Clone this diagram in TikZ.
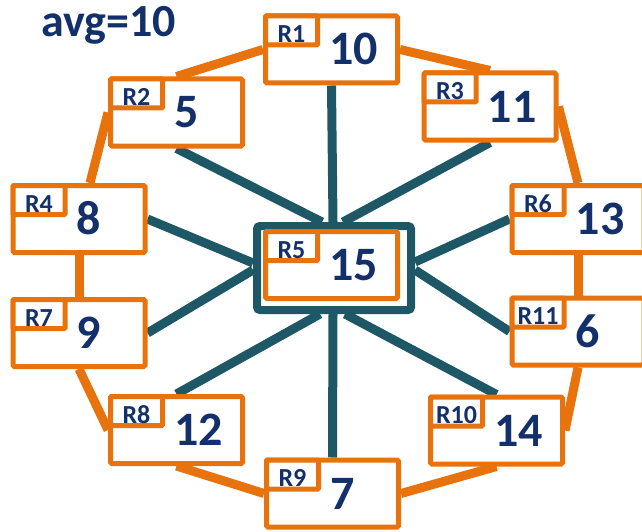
\documentclass[tikz,border=0pt]{standalone}
\usepackage{fontspec}
\setmainfont{Carlito}
\usetikzlibrary{calc}
\definecolor{navy}{RGB}{19,48,107}
\definecolor{orng}{RGB}{232,114,12}
\definecolor{tealc}{RGB}{30,88,102}
\pgfdeclarelayer{bg}
\pgfsetlayers{bg,main}
\begin{document}
\begin{tikzpicture}[x=1pt,y=-1pt,
 rbox/.style={draw=orng, line width=5pt, fill=white, minimum width=132pt, minimum height=67pt, inner sep=0pt, rounded corners=1.5pt},
 lbox/.style={draw=orng, line width=5pt, fill=white, minimum width=52pt, minimum height=29pt, inner sep=0pt, text height=24pt, text depth=0pt, font=\bfseries\fontsize{26}{26}\selectfont, text=navy, anchor=north west, rounded corners=1pt},
 num/.style={font=\bfseries\fontsize{48}{48}\selectfont, text=navy, inner sep=0pt, anchor=base west},
 ring/.style={draw=orng, line width=9pt},
 spoke/.style={draw=tealc, line width=9pt},
 hub/.style={draw=tealc, line width=8pt, fill=white, minimum width=154pt, minimum height=84pt, inner sep=0pt, rounded corners=3pt}
]
\useasboundingbox (0,0) rectangle (642,532);
\node[font=\bfseries\fontsize{46}{46}\selectfont, text=navy, anchor=base west, inner sep=0pt] (avg) at (41,37) {avg=10};
\node[hub] (T) at (334,268) {};
\foreach \n/\x/\y/\v in {R1/331.5/49.5/10, R2/176.5/112.5/5, R3/490/106.5/11, R4/79/219/8, R6/578/219/13, R5/331.5/265/15, R7/79/333/9, R11/578/331.5/6, R8/176.5/430/12, R10/496.5/430.5/14, R9/332.5/493.5/7} {
  \node[rbox] (\n) at (\x,\y) {};
  \node[lbox] (\n l) at (\n.north west) {\n};
  \node[num] (\n v) at ($(\n.west)+(66,15.5)$) {\v};
}
\coordinate (t1) at ($(T.north)+(-12,0)$);
\coordinate (t2) at ($(T.north)+(-1,0)$);
\coordinate (t3) at ($(T.north)+(9,0)$);
\coordinate (l1) at ($(T.west)+(0,-5)$);
\coordinate (l2) at ($(T.west)+(0,2)$);
\coordinate (r1) at ($(T.east)+(0,-6)$);
\coordinate (r2) at ($(T.east)+(0,2)$);
\coordinate (b1) at ($(T.south)+(-14,0)$);
\coordinate (b2) at ($(T.south)+(-1,0)$);
\coordinate (b3) at ($(T.south)+(11,0)$);
\coordinate (R4top) at ($(R4.north)+(11,0)$);
\begin{pgfonlayer}{bg}
\draw[spoke] (R2.south) -- (t1);
\draw[spoke] (R1.south) -- (t2);
\draw[spoke] (R3.south) -- (t3);
\draw[spoke] (R4.east) -- (l1);
\draw[spoke] (R7.east) -- (l2);
\draw[spoke] (R6.west) -- (r1);
\draw[spoke] (R11.west) -- (r2);
\draw[spoke] (R8.north) -- (b1);
\draw[spoke] (R9.north) -- (b2);
\draw[spoke] (R10.north) -- (b3);
\draw[ring] (R1.west) -- (R2.north);
\draw[ring] (R1.east) -- (R3.north);
\draw[ring] (R2.west) -- (R4top);
\draw[ring] (R3.east) -- (R6.north);
\draw[ring] (R4.south) -- (R7.north);
\draw[ring] (R6.south) -- (R11.north);
\draw[ring] (R7.south) -- (R8.west);
\draw[ring] (R11.south) -- (R10.east);
\draw[ring] (R8.south) -- (R9.west);
\draw[ring] (R10.south) -- (R9.east);
\end{pgfonlayer}
\end{tikzpicture}
\end{document}
